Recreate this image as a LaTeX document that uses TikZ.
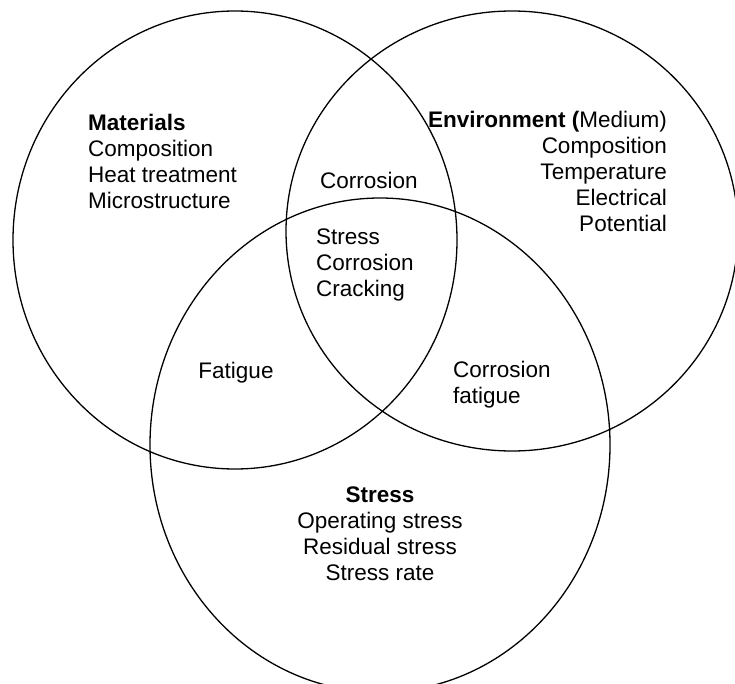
\documentclass[tikz,border=0pt]{standalone}
\usepackage{fontspec}
\setmainfont{Liberation Sans}
\usepackage{tikz}
\tikzstyle{ring} = [line width=1.3pt, draw=black]
\tikzstyle{venntext} = [inner sep=0pt, text=black, font=\fontsize{22.5}{26}\selectfont]

\begin{document}
\begin{tikzpicture}[x=1pt, y=-1pt]

    \useasboundingbox (0,0) rectangle (735,684);
    \fill [white] (0,0) rectangle (735,684);

    % the three sets
    \begin{scope}
        \clip (0,0) rectangle (735,684);
        \draw [ring] (235,240) ellipse [x radius=222, y radius=229];
        \draw [ring] (512,231) ellipse [x radius=226, y radius=220];
        \draw [ring] (380,445) ellipse [x radius=230, y radius=247];
    \end{scope}

    \node (materials) [venntext, anchor=north west, align=left] at (88,114)
        {\textbf{Materials}\\Composition\\Heat treatment\\Microstructure};
    \node (environment) [venntext, anchor=north east, align=right] at (667,111)
        {\textbf{Environment (}Medium)\\Composition\\Temperature\\Electrical\\Potential};
    \node (stress) [venntext, anchor=north, align=center] at (380,487)
        {\textbf{Stress}\\Operating stress\\Residual stress\\Stress rate};

    % overlaps
    \node (corrosion) [venntext] at (369,180) {Corrosion};
    \node (scc) [venntext, anchor=north west, align=left] at (316,229)
        {Stress\\Corrosion\\Cracking};
    \node (fatigue) [venntext, anchor=base] at (236,378) {Fatigue};
    \node (corrfatigue) [venntext, anchor=north west, align=left] at (453,361)
        {Corrosion\\fatigue};

\end{tikzpicture}
\end{document}
